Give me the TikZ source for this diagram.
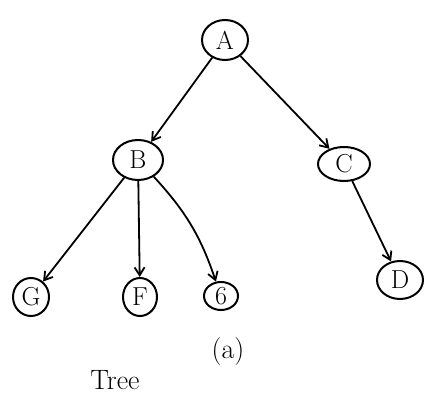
\documentclass[tikz,border=0pt]{standalone}
\usetikzlibrary{shapes.geometric,arrows.meta}
\begin{document}
\begin{tikzpicture}[x=1pt,y=-1pt,
  vert/.style={draw,ellipse,line width=2pt,inner sep=0pt,font=\fontsize{26}{30}\selectfont},
  edge/.style={line width=1.8pt,-{Straight Barb[length=8pt,width=10pt,line width=1.8pt]}},
  hand/.style={font=\fontsize{28}{32}\selectfont}]
\useasboundingbox[fill=white] (0,0) rectangle (429,406);
\node[vert,minimum width=46pt,minimum height=40pt] (A) at (225,40) {A};
\node[vert,minimum width=50pt,minimum height=40pt] (B) at (138,160) {B};
\node[vert,minimum width=52pt,minimum height=34pt] (C) at (344,164) {C};
\node[vert,minimum width=36pt,minimum height=38pt] (G) at (31,297) {G};
\node[vert,minimum width=34pt,minimum height=38pt] (F) at (140,297) {F};
\node[vert,minimum width=34pt,minimum height=28pt] (E) at (221,296) {6};
\node[vert,minimum width=46pt,minimum height=38pt] (D) at (400,280) {D};
\draw[edge] (A) -- (B);
\draw[edge] (A) -- (C);
\draw[edge] (B) -- (G);
\draw[edge] (B) -- (F);
\draw[edge] (B) to[bend left=12] (E);
\draw[edge] (C) -- (D);
\node[hand] (lbl) at (228,352) {(a)};
\node[hand] (tree) at (115,380) {Tree};
\end{tikzpicture}
\end{document}
